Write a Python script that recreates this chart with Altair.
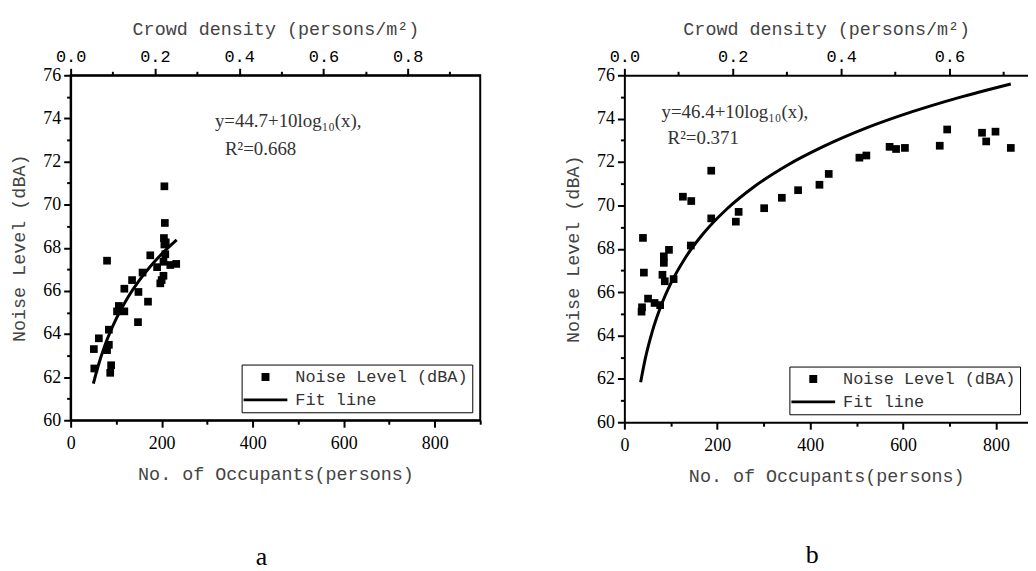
import altair as alt
import pandas as pd

# ---------------- data ----------------
series_names = ["Noise Level (dBA)", "Fit line"]

# panel a
a_persons = [52, 51, 62, 80, 84, 84, 80, 89, 87, 102, 106, 118, 118, 135, 148, 149,
             158, 170, 175, 190, 197, 200, 204, 206, 208, 204, 219, 232, 206, 207, 205, 209]
a_noise = [62.4, 63.3, 63.8, 67.4, 64.2, 63.5, 63.25, 62.55, 62.2, 65.05, 65.3, 65.05,
           66.1, 66.5, 64.55, 65.95, 66.85, 65.5, 67.65, 67.1, 66.35, 66.5, 66.7, 68.15,
           67.7, 67.35, 67.2, 67.25, 70.85, 69.15, 68.45, 68.25]
a_fit_x = [50, 60, 75, 100, 125, 150, 175, 200, 233]
a_fit_y = [61.7, 62.48, 63.45, 64.7, 65.67, 66.46, 67.13, 67.71, 68.37]
a_eq_text = ["y=44.7+10log₁₀(x),", "R²=0.668"]
a_eq_x = [317, 339]
a_eq_y = [73.87, 72.57]

# panel b
b_persons = [37, 38, 40, 42, 51, 65, 77, 82, 85, 85, 87, 96, 106, 126, 144, 143, 187, 187,
             240, 246, 301, 339, 374, 420, 440, 506, 521, 571, 585, 604, 679, 695, 770,
             779, 799, 832]
b_noise = [65.1, 65.3, 68.5, 66.9, 65.7, 65.5, 65.4, 66.8, 67.65, 67.35, 66.5, 67.95, 66.6,
           70.4, 70.2, 68.15, 71.6, 69.4, 69.25, 69.7, 69.87, 70.35, 70.7, 70.95, 71.45,
           72.2, 72.3, 72.7, 72.6, 72.65, 72.75, 73.5, 73.35, 72.95, 73.4, 72.65]
b_fit_x = [35, 45, 60, 80, 100, 130, 170, 220, 280, 350, 430, 520, 620, 720, 832]
b_fit_y = [61.84, 62.93, 64.18, 65.43, 66.4, 67.54, 68.7, 69.82, 70.87, 71.84, 72.73,
           73.56, 74.32, 74.97, 75.6]
b_eq_text = ["y=46.4+10log₁₀(x),", "R²=0.371"]
b_eq_x = [80, 93]
b_eq_y = [74.3, 73.1]

# axis tick values
y_major = [60, 62, 64, 66, 68, 70, 72, 74, 76]
y_minor = [61, 63, 65, 67, 69, 71, 73, 75]
a_occ_major = [0, 200, 400, 600, 800]
a_occ_minor = [100, 300, 500, 700, 900]
b_occ_major = [0, 200, 400, 600, 800]
b_occ_minor = [100, 300, 500, 700]
a_dens_major = [0.0, 0.2, 0.4, 0.6, 0.8]
a_dens_minor = [0.1, 0.3, 0.5, 0.7, 0.9]
b_dens_major = [0.0, 0.2, 0.4, 0.6]
b_dens_minor = [0.1, 0.3, 0.5, 0.7]

MONO = "Liberation Mono"
SERIF = "Liberation Serif"
LINE_SYMBOL = "M-5.5,-0.35H5.5V0.35H-5.5Z"


def panel(persons, noise, fit_x, fit_y, eq_text, eq_x, eq_y, x_max, dens_max,
          occ_major, occ_minor, dens_major, dens_minor, width, height, caption,
          cap_dx, cap_offset, boxed):
    pts = pd.DataFrame({"persons": persons, "noise": noise, "series": series_names[0]})
    fit = pd.DataFrame({"persons": fit_x, "noise": fit_y})
    eq = pd.DataFrame({"persons": eq_x, "noise": eq_y, "label": eq_text})

    xs = alt.Scale(domain=[0, x_max], nice=False, zero=False)
    ys = alt.Scale(domain=[60, 76], nice=False, zero=False)
    ds = alt.Scale(domain=[0, dens_max], nice=False, zero=False)

    y_hidden = alt.YDatum(60, type="quantitative", scale=ys, axis=None)
    x_hidden = alt.XDatum(0, type="quantitative", scale=xs, axis=None)

    points = alt.Chart(pts).mark_point(filled=True, size=60, opacity=1, color="black").encode(
        x=alt.X("persons:Q", scale=xs,
                axis=alt.Axis(orient="bottom", values=occ_major, title="No. of Occupants(persons)",
                              tickSize=7, labelFont=SERIF, labelFontSize=18, labelPadding=7,
                              titlePadding=13, labelFlush=False, labelOverlap=False)),
        y=alt.Y("noise:Q", scale=ys,
                axis=alt.Axis(orient="left", values=y_major, title="Noise Level (dBA)",
                              tickSize=7, labelFont=SERIF, labelFontSize=18, labelPadding=3,
                              titlePadding=14, labelFlush=False, labelOverlap=False)),
        shape=alt.Shape("series:N",
                        scale=alt.Scale(domain=series_names, range=["square", LINE_SYMBOL]),
                        legend=alt.Legend(title=None, orient="bottom-right", offset=8,
                                          strokeColor="black", fillColor="white", padding=4,
                                          labelFont=MONO, labelFontSize=17, labelColor="#333",
                                          symbolSize=64, symbolOffset=11.5, labelOffset=21.5,
                                          rowPadding=5, symbolFillColor="black",
                                          symbolStrokeWidth=0, labelLimit=400)),
    )

    line = alt.Chart(fit).mark_line(color="black", strokeWidth=3, interpolate="monotone").encode(
        x=alt.X("persons:Q", scale=xs, axis=None),
        y=alt.Y("noise:Q", scale=ys, axis=None),
    )

    text = alt.Chart(eq).mark_text(align="left", baseline="middle", font=SERIF, fontSize=19,
                                   color="#333").encode(
        x=alt.X("persons:Q", scale=xs, axis=None),
        y=alt.Y("noise:Q", scale=ys, axis=None),
        text="label:N",
    )

    x_minor = alt.Chart(pd.DataFrame({"v": occ_minor})).mark_point(opacity=0).encode(
        x=alt.X("v:Q", scale=xs,
                axis=alt.Axis(orient="bottom", values=occ_minor, labels=False, tickSize=4,
                              domain=False, title=None, grid=False)),
        y=y_hidden,
    )
    top_major = alt.Chart(pd.DataFrame({"d": dens_major})).mark_point(opacity=0).encode(
        x=alt.X("d:Q", scale=ds,
                axis=alt.Axis(orient="top", values=dens_major, format=".1f",
                              title="Crowd density (persons/m²)", tickSize=7,
                              labelFont=MONO, labelFontSize=17, labelPadding=3,
                              titlePadding=9, labelFlush=False, labelOverlap=False)),
        y=y_hidden,
    )
    top_minor = alt.Chart(pd.DataFrame({"d": dens_minor})).mark_point(opacity=0).encode(
        x=alt.X("d:Q", scale=ds,
                axis=alt.Axis(orient="top", values=dens_minor, labels=False, tickSize=4,
                              domain=False, title=None, grid=False)),
        y=y_hidden,
    )
    y_min = alt.Chart(pd.DataFrame({"v": y_minor})).mark_point(opacity=0).encode(
        y=alt.Y("v:Q", scale=ys,
                axis=alt.Axis(orient="left", values=y_minor, labels=False, tickSize=4,
                              domain=False, title=None, grid=False)),
        x=x_hidden,
    )

    view = alt.ViewBackground(stroke="black", strokeWidth=2) if boxed else alt.ViewBackground(strokeWidth=0)
    return alt.layer(points, line, text, x_minor, top_major, top_minor, y_min).resolve_scale(
        x="independent"
    ).resolve_axis(x="independent", y="independent").properties(
        width=width, height=height, view=view,
        title=alt.TitleParams(text=caption, orient="bottom", anchor="middle", frame="group",
                              offset=cap_offset, dx=cap_dx, font=SERIF, fontSize=26,
                              fontWeight="normal", color="black"),
    )


left = panel(a_persons, a_noise, a_fit_x, a_fit_y, a_eq_text, a_eq_x, a_eq_y,
             900, 0.972, a_occ_major, a_occ_minor, a_dens_major, a_dens_minor,
             412, 347, "a", -14, 61, True)
right = panel(b_persons, b_noise, b_fit_x, b_fit_y, b_eq_text, b_eq_x, b_eq_y,
              869, 0.745, b_occ_major, b_occ_minor, b_dens_major, b_dens_minor,
              406, 349, "b", -14, 57, False)

chart = alt.hconcat(left, right, spacing=80).resolve_scale(
    shape="independent"
).resolve_legend(shape="independent").properties(
    padding={"left": 1, "top": 9, "right": 0, "bottom": 0}
).configure_axis(
    domainColor="black", domainWidth=2, tickColor="black", tickWidth=2,
    labelColor="black", titleFont=MONO, titleFontSize=18.5, titleFontWeight="normal",
    titleColor="#444", grid=False,
).configure_view(stroke=None)

chart.save("out.html", embed_options={"renderer": "svg", "actions": False})
